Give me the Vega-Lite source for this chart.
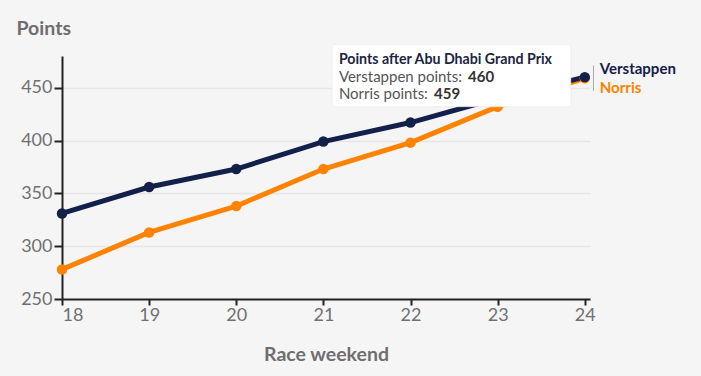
{
  "$schema": "https://vega.github.io/schema/vega-lite/v6.json",
  "width": 528,
  "height": 243,
  "autosize": "none",
  "padding": {"left": 62, "top": 56, "right": 111, "bottom": 77},
  "background": "#f5f5f5",
  "config": {
    "font": "Lato",
    "view": {"stroke": null},
    "axis": {
      "domainColor": "#222222",
      "domainWidth": 2,
      "tickColor": "#222222",
      "tickWidth": 2,
      "labelFont": "Lato",
      "labelFontSize": 18,
      "labelColor": "#707070",
      "titleFont": "Lato",
      "titleFontSize": 19.5,
      "titleFontWeight": "bold",
      "titleColor": "#6e6e6e"
    }
  },
  "datasets": {
    "points": [
      {"race": 18, "driver": "Norris", "points": 278},
      {"race": 19, "driver": "Norris", "points": 313},
      {"race": 20, "driver": "Norris", "points": 338},
      {"race": 21, "driver": "Norris", "points": 373},
      {"race": 22, "driver": "Norris", "points": 398},
      {"race": 23, "driver": "Norris", "points": 432},
      {"race": 24, "driver": "Norris", "points": 459},
      {"race": 18, "driver": "Verstappen", "points": 331},
      {"race": 19, "driver": "Verstappen", "points": 356},
      {"race": 20, "driver": "Verstappen", "points": 373},
      {"race": 21, "driver": "Verstappen", "points": 399},
      {"race": 22, "driver": "Verstappen", "points": 417},
      {"race": 23, "driver": "Verstappen", "points": 440},
      {"race": 24, "driver": "Verstappen", "points": 460}
    ],
    "tipbox": [{"x1": 21.1, "x2": 23.84, "y1": 491, "y2": 432}],
    "tiptitle": [{"x": 21.178, "y": 476.5, "label": "Points after Abu Dhabi Grand Prix"}],
    "tipkeys": [
      {"x": 21.178, "y": 460.4, "label": "Verstappen points:"},
      {"x": 21.178, "y": 444.3, "label": "Norris points:"}
    ],
    "tipvalues": [
      {"x": 22.66, "y": 460.4, "label": "460"},
      {"x": 22.27, "y": 444.3, "label": "459"}
    ],
    "endlabels": [
      {"x": 24.172, "y": 468, "driver": "Verstappen"},
      {"x": 24.172, "y": 450, "driver": "Norris"}
    ],
    "bracket": [{"x": 24.1, "y1": 471, "y2": 447}]
  },
  "layer": [
    {
      "data": {"name": "points"},
      "mark": {"type": "line", "strokeWidth": 5},
      "encoding": {
        "x": {
          "field": "race", "type": "quantitative",
          "scale": {"domain": [18, 24.06], "nice": false, "zero": false},
          "axis": {
            "values": [18, 19, 20, 21, 22, 23, 24],
            "format": "d",
            "grid": false,
            "tickSize": 6,
            "labelPadding": 1,
            "title": "Race weekend",
            "titlePadding": 21
          }
        },
        "y": {
          "field": "points", "type": "quantitative",
          "scale": {"domain": [250, 480], "nice": false, "zero": false},
          "axis": {
            "values": [250, 300, 350, 400, 450],
            "grid": true,
            "gridColor": "#e6e6e6",
            "gridWidth": 1.5,
            "tickSize": 8,
            "labelPadding": 2,
            "title": "Points",
            "titleAngle": 0,
            "titleAlign": "left",
            "titleBaseline": "middle",
            "titleX": -46,
            "titleY": -28
          }
        },
        "color": {
          "field": "driver", "type": "nominal",
          "scale": {"domain": ["Verstappen", "Norris"], "range": ["#13204a", "#ff8200"]},
          "legend": null
        }
      }
    },
    {
      "data": {"name": "points"},
      "mark": {"type": "point", "filled": true, "size": 110, "opacity": 1},
      "encoding": {
        "x": {"field": "race", "type": "quantitative"},
        "y": {"field": "points", "type": "quantitative"},
        "color": {"field": "driver", "type": "nominal", "legend": null}
      }
    },
    {
      "data": {"name": "tipbox"},
      "mark": {"type": "rect", "fill": "#ffffff", "cornerRadius": 3, "stroke": "#e4e4e4", "strokeWidth": 0.5, "clip": false},
      "encoding": {
        "x": {"field": "x1", "type": "quantitative"},
        "x2": {"field": "x2"},
        "y": {"field": "y1", "type": "quantitative"},
        "y2": {"field": "y2"}
      }
    },
    {
      "data": {"name": "tiptitle"},
      "mark": {"type": "text", "align": "left", "baseline": "middle", "fontSize": 14.2, "fontWeight": "bold", "color": "#1c2541", "clip": false},
      "encoding": {
        "x": {"field": "x", "type": "quantitative"},
        "y": {"field": "y", "type": "quantitative"},
        "text": {"field": "label"}
      }
    },
    {
      "data": {"name": "tipkeys"},
      "mark": {"type": "text", "align": "left", "baseline": "middle", "fontSize": 15, "color": "#555555"},
      "encoding": {
        "x": {"field": "x", "type": "quantitative"},
        "y": {"field": "y", "type": "quantitative"},
        "text": {"field": "label"}
      }
    },
    {
      "data": {"name": "tipvalues"},
      "mark": {"type": "text", "align": "left", "baseline": "middle", "fontSize": 15, "fontWeight": "bold", "color": "#333333"},
      "encoding": {
        "x": {"field": "x", "type": "quantitative"},
        "y": {"field": "y", "type": "quantitative"},
        "text": {"field": "label"}
      }
    },
    {
      "data": {"name": "bracket"},
      "mark": {"type": "rule", "color": "#aaaaaa", "strokeWidth": 1},
      "encoding": {
        "x": {"field": "x", "type": "quantitative"},
        "y": {"field": "y1", "type": "quantitative"},
        "y2": {"field": "y2"}
      }
    },
    {
      "data": {"name": "endlabels"},
      "mark": {"type": "text", "align": "left", "baseline": "middle", "fontSize": 15, "fontWeight": "bold", "clip": false},
      "encoding": {
        "x": {"field": "x", "type": "quantitative"},
        "y": {"field": "y", "type": "quantitative"},
        "text": {"field": "driver"},
        "color": {"field": "driver", "type": "nominal", "legend": null}
      }
    }
  ]
}
